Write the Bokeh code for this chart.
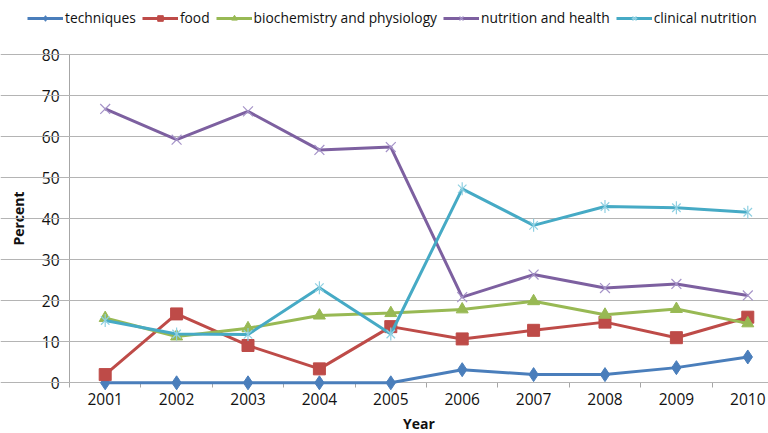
import math
from bokeh.plotting import figure
from bokeh.models import FixedTicker, Legend, LegendItem, Range1d
from bokeh.embed import file_html
from bokeh.resources import INLINE

# ---- data ----
years = [2001, 2002, 2003, 2004, 2005, 2006, 2007, 2008, 2009, 2010]
techniques = [0.0, 0.0, 0.0, 0.0, 0.0, 3.2, 2.0, 2.0, 3.7, 6.3]
food = [2.0, 16.8, 9.1, 3.4, 13.7, 10.7, 12.8, 14.8, 11.0, 16.0]
biochemistry = [15.8, 11.3, 13.3, 16.4, 17.0, 17.9, 19.9, 16.6, 18.0, 14.5]
nutrition_health = [66.8, 59.3, 66.2, 56.8, 57.5, 20.9, 26.4, 23.1, 24.1, 21.3]
clinical_nutrition = [15.2, 11.9, 11.8, 23.2, 11.9, 47.3, 38.4, 43.0, 42.7, 41.6]
y_ticks = [0, 10, 20, 30, 40, 50, 60, 70, 80]
series_names = ["techniques", "food", "biochemistry and physiology",
                "nutrition and health", "clinical nutrition"]

FONT = "Open Sans"
AXIS_GRAY = "#a6a6a6"

# plot area geometry (the frame fills the whole canvas; axes sit at fixed spots)
X_LEFT = 2000.5            # category-axis start (left edge of plot area)
X_RIGHT = 2010.29          # right edge of the visible plot area
PX_PER_YEAR = 71.4
PX_PER_UNIT = 4.1
W, H = 768, 433
x_start = X_LEFT - 69 / PX_PER_YEAR
y_top = 382.3 / PX_PER_UNIT
y_bottom = -(H - 382.3) / PX_PER_UNIT

p = figure(width=W, height=H,
           x_range=Range1d(x_start, X_RIGHT), y_range=Range1d(y_bottom, y_top),
           output_backend="svg", toolbar_location=None,
           min_border_left=0, min_border_right=0,
           min_border_top=0, min_border_bottom=0,
           outline_line_color=None, background_fill_color="white",
           border_fill_color="white")

# grid
p.xgrid.visible = False
p.ygrid.ticker = FixedTicker(ticks=y_ticks)
p.ygrid.bounds = (X_LEFT, X_RIGHT)
p.ygrid.grid_line_color = "#b4b4b4"
p.ygrid.grid_line_width = 1

# x axis (category style: ticks between years, labels on years)
xa = p.xaxis[0]
xa.level = "underlay"
xa.fixed_location = 0
xa.bounds = (X_LEFT, X_RIGHT)
xa.ticker = FixedTicker(ticks=years, minor_ticks=[y - 0.5 for y in years] + [years[-1] + 0.5])
xa.axis_line_color = AXIS_GRAY
xa.major_tick_line_color = None
xa.major_tick_out = 5
xa.major_tick_in = 0
xa.minor_tick_out = 5
xa.minor_tick_in = 0
xa.minor_tick_line_color = AXIS_GRAY
xa.major_label_text_font = FONT
xa.major_label_text_font_size = "15.5px"
xa.major_label_text_color = "#111111"
xa.major_label_standoff = 5
xa.axis_label = "Year"
xa.axis_label_text_font = FONT
xa.axis_label_text_font_size = "14px"
xa.axis_label_text_font_style = "bold"
xa.axis_label_text_color = "#111111"
xa.axis_label_standoff = 6

# y axis
ya = p.yaxis[0]
ya.level = "underlay"
ya.fixed_location = X_LEFT
ya.ticker = FixedTicker(ticks=y_ticks)
ya.bounds = (0, 80)
ya.major_tick_out = 5
ya.major_tick_in = 0
ya.minor_tick_line_color = None
ya.major_tick_line_color = AXIS_GRAY
ya.axis_line_color = AXIS_GRAY
ya.major_label_text_font = FONT
ya.major_label_text_font_size = "15.5px"
ya.major_label_text_color = "#111111"
ya.major_label_standoff = 5
ya.axis_label = "Percent"
ya.axis_label_text_font = FONT
ya.axis_label_text_font_size = "14px"
ya.axis_label_text_font_style = "bold"
ya.axis_label_text_color = "#111111"
ya.axis_label_standoff = 11

LW = 3
items = []

# techniques
l1 = p.line(years, techniques, line_color="#4a7ebb", line_width=LW)
m1 = p.scatter(years, techniques, marker="diamond", size=14,
               fill_color="#4a7ebb", line_color="#4a7ebb")
items.append(LegendItem(label=series_names[0], renderers=[l1, m1]))

# food
l2 = p.line(years, food, line_color="#be4b48", line_width=LW)
m2 = p.scatter(years, food, marker="square", size=12,
               fill_color="#be4b48", line_color="#be4b48")
items.append(LegendItem(label=series_names[1], renderers=[l2, m2]))

# biochemistry and physiology
l3 = p.line(years, biochemistry, line_color="#98b954", line_width=LW)
m3 = p.scatter(years, biochemistry, marker="triangle", size=12,
               fill_color="#98b954", line_color="#98b954")
items.append(LegendItem(label=series_names[2], renderers=[l3, m3]))

# nutrition and health
l4 = p.line(years, nutrition_health, line_color="#7d60a0", line_width=LW)
m4 = p.scatter(years, nutrition_health, marker="x", size=14,
               line_color="#a593c8", line_width=1.2)
items.append(LegendItem(label=series_names[3], renderers=[l4, m4]))

# clinical nutrition
l5 = p.line(years, clinical_nutrition, line_color="#46aac5", line_width=LW)
m5 = p.scatter(years, clinical_nutrition, marker="x", size=12,
               line_color="#8fd0e2", line_width=1.2)
m5b = p.scatter(years, clinical_nutrition, marker="dash", size=13, angle=math.pi / 2,
                line_color="#8fd0e2", line_width=1.2)
items.append(LegendItem(label=series_names[4], renderers=[l5, m5, m5b]))

legend = Legend(items=items, orientation="horizontal", location=(27, 406),
                glyph_width=36, glyph_height=14, label_height=14,
                label_standoff=2, spacing=6, padding=0, margin=0,
                label_text_font=FONT, label_text_font_size="13.8px",
                label_text_color="#111111",
                background_fill_alpha=0, border_line_color=None)
p.add_layout(legend, "center")

open("out.html", "w").write(file_html(p, INLINE))
